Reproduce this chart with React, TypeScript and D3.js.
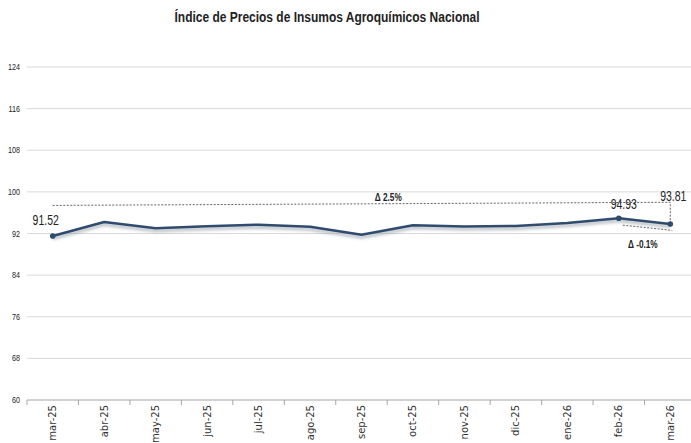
import React, { useEffect } from 'react';
import * as d3 from 'd3';

// categories (months) and index values
const months = ['mar-25', 'abr-25', 'may-25', 'jun-25', 'jul-25', 'ago-25', 'sep-25', 'oct-25', 'nov-25', 'dic-25', 'ene-26', 'feb-26', 'mar-26'];
const values = [91.52, 94.2, 93.0, 93.4, 93.7, 93.3, 91.75, 93.6, 93.35, 93.45, 94.0, 94.93, 93.81];
const yTicks = [60, 68, 76, 84, 92, 100, 108, 116, 124];
// points that carry a marker and a value label
const labelled = ['mar-25', 'feb-26', 'mar-26'];
// annotation texts
const yearChange = 'Δ 2.5%';
const monthChange = 'Δ -0.1%';

const W = 691;
const H = 443;
const sans = '"Liberation Sans", Arial, sans-serif';

// text squeezed horizontally to imitate the narrow font of the original
const Narrow = ({ x, y, sx = 0.78, anchor = 'middle', size, bold = false, children }: any) => (
  <text
    transform={`translate(${x},${y}) scale(${sx},1)`}
    textAnchor={anchor}
    fontFamily={sans}
    fontSize={size}
    fontWeight={bold ? 'bold' : 'normal'}
    fill="#222"
  >
    {children}
  </text>
);

const App = () => {
  useEffect(() => {
    document.body.style.margin = '0';
  }, []);

  const x = d3.scaleBand().domain(months).range([27, 696]);
  const y = d3.scaleLinear().domain([60, 124]).range([400, 67]);
  const cx = (m: string) => (x(m) ?? 0) + x.bandwidth() / 2;

  const pts: [number, number][] = months.map((m, i) => [cx(m), y(values[i])]);
  const line = d3.line().curve(d3.curveLinear)(pts) ?? '';

  const first = months[0];
  const last = months[months.length - 1];
  const prev = months[months.length - 2];

  // dashed helper lines (in data units)
  const yearLine = d3.line()([[cx(first), y(97.4)], [cx(last), y(98.0)], [cx(last), y(values[values.length - 1])]]) ?? '';
  const monthLine = d3.line()([[cx(prev) + 4, y(93.6)], [cx(last) + 2, y(92.6)]]) ?? '';

  return (
    <svg width={W} height={H} style={{ display: 'block', background: '#fff' }}>
      <defs>
        <filter id="shadow" x="-5%" y="-50%" width="110%" height="200%">
          <feGaussianBlur stdDeviation="1.5" />
        </filter>
      </defs>
      <text
        x={327}
        y={22}
        textAnchor="middle"
        fontFamily={sans}
        fontWeight="bold"
        fontSize={14}
        fill="#222"
        textLength={305}
        lengthAdjust="spacingAndGlyphs"
      >
        Índice de Precios de Insumos Agroquímicos Nacional
      </text>

      {yTicks.map((t) => (
        <g key={t}>
          {t !== 60 && <line x1={27} x2={W} y1={y(t)} y2={y(t)} stroke="#d9d9d9" strokeWidth={1} />}
          <Narrow x={20} y={y(t) + 3} anchor="end" size={9} sx={0.8}>
            {t}
          </Narrow>
        </g>
      ))}

      {/* bottom axis */}
      <line x1={27} x2={W} y1={y(60)} y2={y(60)} stroke="#a6a6a6" />
      {months.map((m) => (
        <line key={m} x1={x(m)} x2={x(m)} y1={y(60)} y2={y(60) + 5} stroke="#a6a6a6" />
      ))}
      {months.map((m) => (
        <text
          key={m}
          transform={`translate(${cx(m) + 3.5},${y(60) + 5}) rotate(-90)`}
          textAnchor="end"
          fontFamily="DejaVu Sans, sans-serif"
          fontSize={10}
          fill="#333"
        >
          {m}
        </text>
      ))}

      {/* dashed annotations */}
      <path d={yearLine} fill="none" stroke="#555" strokeWidth={0.9} strokeDasharray="2,1.5" />
      <path d={monthLine} fill="none" stroke="#555" strokeWidth={0.9} strokeDasharray="2,1.5" />
      <Narrow x={(cx(months[6]) + cx(months[7])) / 2 + 1} y={y(98.3)} size={11} bold sx={0.75}>
        {yearChange}
      </Narrow>
      <Narrow x={cx(prev) + 24} y={y(89.2)} size={11} bold sx={0.75}>
        {monthChange}
      </Narrow>

      {/* series */}
      <path d={line} fill="none" stroke="#9aa3ad" strokeWidth={3} transform="translate(0,2.5)" filter="url(#shadow)" opacity={0.7} />
      <path d={line} fill="none" stroke="#2f4b6e" strokeWidth={2.5} strokeLinejoin="round" />
      {months.map((m, i) =>
        labelled.includes(m) ? <circle key={m} cx={cx(m)} cy={y(values[i])} r={2.8} fill="#2f4b6e" /> : null
      )}

      <Narrow x={cx(first) - 7} y={y(values[0]) - 11} size={15} sx={0.7}>
        {values[0].toFixed(2)}
      </Narrow>
      <Narrow x={cx(prev) + 5} y={y(values[11]) - 9} size={15} sx={0.7}>
        {values[11].toFixed(2)}
      </Narrow>
      <Narrow x={cx(last) + 3} y={y(values[12]) - 23} size={15} sx={0.7}>
        {values[12].toFixed(2)}
      </Narrow>
    </svg>
  );
};

export default App;
